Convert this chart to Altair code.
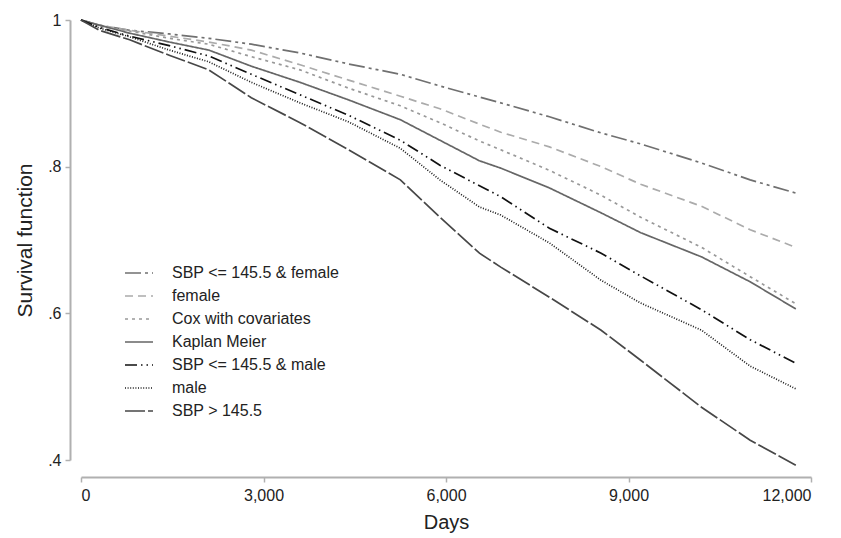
import altair as alt
import pandas as pd

days = [0, 300, 800, 1450, 2100, 2800, 3600, 4400, 5250, 5900, 6550, 6900,
        7700, 8550, 9200, 10200, 11000, 11750]

series_names = [
    "SBP <= 145.5 & female",
    "female",
    "Cox with covariates",
    "Kaplan Meier",
    "SBP <= 145.5 & male",
    "male",
    "SBP > 145.5",
]

sbp_low_female = [1.0, 0.993, 0.986, 0.981, 0.975, 0.967, 0.955, 0.940, 0.926, 0.910,
                  0.895, 0.887, 0.868, 0.846, 0.831, 0.805, 0.782, 0.764]
female = [1.0, 0.993, 0.986, 0.978, 0.970, 0.959, 0.939, 0.918, 0.896, 0.879,
          0.858, 0.847, 0.827, 0.800, 0.776, 0.746, 0.714, 0.690]
cox = [1.0, 0.992, 0.985, 0.975, 0.967, 0.950, 0.932, 0.907, 0.883, 0.860,
       0.835, 0.823, 0.795, 0.761, 0.731, 0.690, 0.650, 0.613]
kaplan_meier = [1.0, 0.993, 0.982, 0.970, 0.959, 0.937, 0.915, 0.891, 0.864, 0.836,
                0.808, 0.798, 0.771, 0.737, 0.710, 0.677, 0.643, 0.606]
sbp_low_male = [1.0, 0.990, 0.978, 0.965, 0.951, 0.926, 0.898, 0.870, 0.836, 0.802,
                0.774, 0.759, 0.716, 0.682, 0.651, 0.605, 0.564, 0.532]
male = [1.0, 0.989, 0.977, 0.959, 0.943, 0.915, 0.887, 0.861, 0.825, 0.782,
        0.745, 0.734, 0.696, 0.645, 0.614, 0.577, 0.528, 0.497]
sbp_high = [1.0, 0.986, 0.973, 0.952, 0.932, 0.894, 0.860, 0.823, 0.782, 0.731,
            0.682, 0.663, 0.622, 0.577, 0.536, 0.472, 0.427, 0.393]

values = [sbp_low_female, female, cox, kaplan_meier, sbp_low_male, male, sbp_high]

x_ticks = [0, 3000, 6000, 9000, 12000]
y_ticks = [0.4, 0.6, 0.8, 1.0]

colors = ["#707070", "#ababab", "#999999", "#666666", "#111111", "#1a1a1a", "#474747"]
dashes = [[16, 4, 3, 4, 3, 4], [8, 5], [3, 4], [1, 0], [12, 4, 1.5, 4, 1.5, 4], [1, 1.6], [20, 3]]
widths = [1.7, 1.7, 1.5, 2.6, 1.8, 1.2, 1.8]

rows = []
for name, vals in zip(series_names, values):
    for d, v in zip(days, vals):
        rows.append({"series": name, "days": d, "survival": v})
df = pd.DataFrame(rows)

axis_font = "Liberation Sans"

chart = alt.Chart(df).mark_line(interpolate="linear").encode(
    x=alt.X("days:Q",
            scale=alt.Scale(domain=[0, 12000], nice=False, zero=False),
            axis=alt.Axis(title="Days", values=x_ticks, format=",.0f", offset=17,
                          tickSize=5, labelPadding=5, titlePadding=9,
                          grid=False)),
    y=alt.Y("survival:Q",
            scale=alt.Scale(domain=[0.4, 1.0], nice=False, zero=False),
            axis=alt.Axis(title="Survival function", values=y_ticks, offset=11,
                          tickSize=5, labelPadding=4, titlePadding=12, grid=False,
                          labelExpr="datum.value == 1 ? '1' : replace(format(datum.value, '.1f'), '0.', '.')")),
    color=alt.Color("series:N", scale=alt.Scale(domain=series_names, range=colors),
                    legend=alt.Legend(title=None)),
    strokeDash=alt.StrokeDash("series:N", scale=alt.Scale(domain=series_names, range=dashes),
                              legend=alt.Legend(title=None)),
    strokeWidth=alt.StrokeWidth("series:N", scale=alt.Scale(domain=series_names, range=widths),
                                legend=alt.Legend(title=None)),
    order=alt.Order("days:Q"),
).properties(
    width=730,
    height=440,
    autosize=alt.AutoSizeParams(type="none"),
    padding={"left": 73, "top": 12, "right": 22, "bottom": 76},
).configure_view(
    stroke=None
).configure_axis(
    domainColor="#b0b0b0",
    domainWidth=2,
    tickColor="#b0b0b0",
    tickWidth=1.5,
    labelFont=axis_font,
    labelFontSize=16,
    labelColor="#222222",
    titleFont=axis_font,
    titleFontSize=20,
    titleFontWeight="normal",
    titleColor="#222222",
).configure_axisY(
    titleFontSize=21,
).configure_legend(
    orient="none",
    legendX=43,
    legendY=238,
    padding=0,
    symbolType="stroke",
    symbolSize=784,
    labelFont=axis_font,
    labelFontSize=16,
    labelColor="#222222",
    labelOffset=18,
    labelLimit=400,
    rowPadding=0,
)

chart.save("out.html", embed_options={"renderer": "svg", "actions": False})
